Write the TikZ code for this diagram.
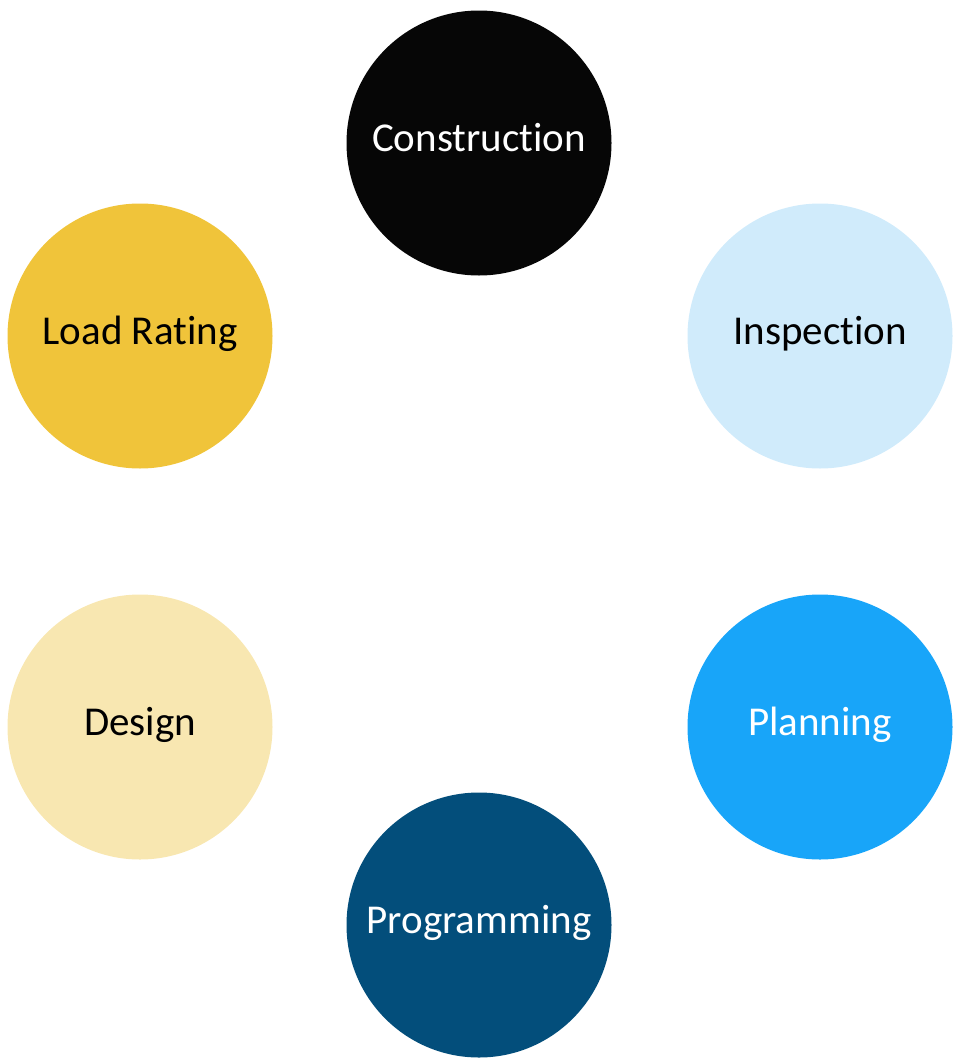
\documentclass[tikz,border=0pt]{standalone}
\usepackage{fontspec}
\setmainfont{Carlito}[Ligatures={NoCommon,TeX}]
\begin{document}
\begin{tikzpicture}[x=1pt,y=-1pt,
  bubble/.style={circle,minimum size=265pt,inner sep=0pt,draw=none},
  lbl/.style={font=\fontsize{41}{46}\selectfont,inner sep=0pt}]
\useasboundingbox (0,0) rectangle (961,1060);
\node[bubble,fill={rgb,255:red,6;green,6;blue,6}] (con) at (479,143) {};
\node[bubble,fill={rgb,255:red,208;green,235;blue,251}] (ins) at (820,336) {};
\node[bubble,fill={rgb,255:red,24;green,165;blue,249}] (pla) at (820,727) {};
\node[bubble,fill={rgb,255:red,3;green,78;blue,123}] (pro) at (479,925) {};
\node[bubble,fill={rgb,255:red,248;green,231;blue,177}] (des) at (140,727) {};
\node[bubble,fill={rgb,255:red,240;green,196;blue,58}] (loa) at (140,336) {};
\node[lbl,text=white,anchor=base] (tcon) at ([yshift=-8pt]con.center) {Construction};
\node[lbl,text=black,anchor=base] (tins) at ([yshift=-8pt]ins.center) {Inspection};
\node[lbl,text=white,anchor=base] (tpla) at ([yshift=-8pt]pla.center) {Planning};
\node[lbl,text=white,anchor=base] (tpro) at ([yshift=-8pt]pro.center) {Programming};
\node[lbl,text=black,anchor=base] (tdes) at ([yshift=-8pt]des.center) {Design};
\node[lbl,text=black,anchor=base] (tloa) at ([yshift=-8pt]loa.center) {Load Rating};
\end{tikzpicture}
\end{document}
